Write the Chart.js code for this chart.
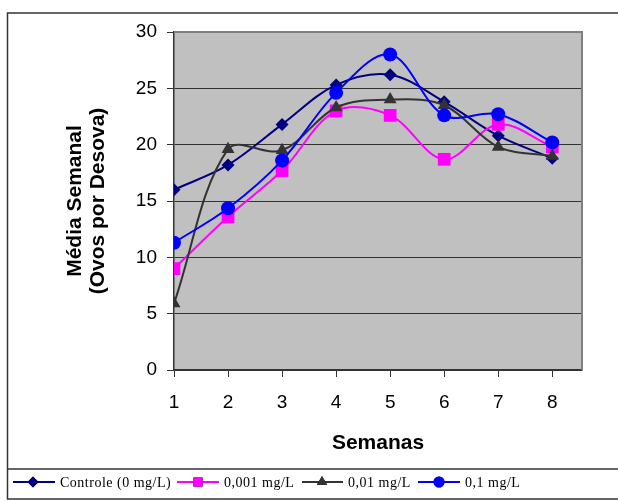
<!DOCTYPE html>
<html>
<head>
<meta charset="utf-8">
<script src="https://cdn.jsdelivr.net/npm/chart.js@4/dist/chart.umd.min.js"></script>
<style>
  html, body { margin: 0; padding: 0; background: #fff; }
  #wrap { width: 618px; height: 502px; }
</style>
</head>
<body>
<div id="wrap"><canvas id="grafico" width="618" height="502"></canvas></div>
<script>
// dados
const semanas = [1, 2, 3, 4, 5, 6, 7, 8];
const controle = [16.0, 18.2, 21.8, 25.3, 26.2, 23.8, 20.8, 18.8];
const dose0001 = [9.0, 13.6, 17.7, 23.0, 22.6, 18.7, 21.8, 19.8];
const dose001 = [5.9, 19.6, 19.5, 23.3, 24.0, 23.5, 19.8, 19.0];
const dose01 = [11.3, 14.35, 18.6, 24.6, 28.0, 22.6, 22.7, 20.2];
const nomes = ["Controle (0 mg/L)", "0,001 mg/L", "0,01 mg/L", "0,1 mg/L"];
const ticksY = [0, 5, 10, 15, 20, 25, 30];

const fonte = "'Liberation Sans', Arial, sans-serif";

function serie(nome, valores, cor, estilo, raio, ordem) {
  return {
    label: nome,
    data: valores,
    borderColor: cor,
    backgroundColor: cor,
    borderWidth: 2,
    pointStyle: estilo,
    pointRadius: raio,
    pointBorderWidth: 0,
    pointBackgroundColor: cor,
    tension: 0.35,
    order: ordem
  };
}

// fundo cinza, moldura e legenda
const moldura = {
  id: "moldura",
  beforeDraw(chart) {
    const { ctx, chartArea: a } = chart;
    ctx.save();
    ctx.fillStyle = "#C0C0C0";
    ctx.fillRect(a.left, a.top, a.right - a.left, a.bottom - a.top);
    ctx.restore();
  },
  beforeDatasetsDraw(chart) {
    const { ctx, chartArea: a } = chart;
    ctx.save();
    ctx.strokeStyle = "#808080";
    ctx.lineWidth = 2;
    ctx.beginPath();
    ctx.moveTo(a.left, a.top);
    ctx.lineTo(a.right, a.top);
    ctx.lineTo(a.right, a.bottom);
    ctx.stroke();
    ctx.restore();
  },
  afterDraw(chart) {
    const ctx = chart.ctx;
    ctx.save();
    ctx.strokeStyle = "#333";
    ctx.lineWidth = 1.5;
    ctx.strokeRect(7.5, 13, 620, 486);
    ctx.beginPath();
    ctx.moveTo(7, 469);
    ctx.lineTo(618, 469);
    ctx.stroke();

    const itens = [
      { x1: 13, x2: 55, m: 33, t: 60 },
      { x1: 177, x2: 219, m: 198, t: 224 },
      { x1: 302, x2: 343, m: 322, t: 348 },
      { x1: 418, x2: 460, m: 439, t: 465 }
    ];
    const raios = [5.5, 6.5, 6, 5.5];
    const y = 482;
    ctx.font = "14px 'Liberation Serif', 'DejaVu Serif', serif";
    ctx.letterSpacing = "0.5px";
    ctx.textBaseline = "middle";
    chart.data.datasets.forEach((ds, i) => {
      const it = itens[i];
      ctx.strokeStyle = ds.borderColor;
      ctx.lineWidth = 2;
      ctx.beginPath();
      ctx.moveTo(it.x1, y);
      ctx.lineTo(it.x2, y);
      ctx.stroke();
      Chart.helpers.drawPoint(ctx, {
        pointStyle: ds.pointStyle, radius: raios[i], rotation: 0, borderWidth: 0
      }, it.m, y);
      ctx.fillStyle = ds.borderColor;
      ctx.fill();
      ctx.fillStyle = "#000";
      ctx.fillText(ds.label, it.t, y + 1);
    });
    ctx.restore();
  }
};

new Chart(document.getElementById("grafico"), {
  type: "line",
  data: {
    labels: semanas,
    datasets: [
      serie(nomes[0], controle, "#000080", "rectRot", 6.5, 4),
      serie(nomes[1], dose0001, "#FF00FF", "rect", 9, 3),
      serie(nomes[2], dose001, "#333333", "triangle", 7.5, 2),
      serie(nomes[3], dose01, "#0000FF", "circle", 7, 1)
    ]
  },
  options: {
    responsive: false,
    animation: false,
    layout: { padding: { left: 0, top: 32, right: 36, bottom: 0 } },
    plugins: { legend: { display: false }, tooltip: { enabled: false } },
    scales: {
      x: {
        type: "linear",
        min: 1,
        max: 8.55,
        afterBuildTicks: s => { s.ticks = semanas.map(v => ({ value: v })); },
        afterFit: s => { s.height = 132; },
        grid: { drawOnChartArea: false, color: "#333", tickLength: 7, lineWidth: 1 },
        border: { color: "#333", width: 1.5 },
        ticks: { color: "#000", padding: 14, font: { family: fonte, size: 19 } },
        title: {
          display: true, text: "Semanas", color: "#000",
          font: { family: fonte, size: 21, weight: "bold" },
          padding: { top: 0, bottom: 46 }
        }
      },
      y: {
        min: 0,
        max: 30,
        afterBuildTicks: s => { s.ticks = ticksY.map(v => ({ value: v })); },
        afterFit: s => { s.width = 174; },
        grid: { color: "#333", tickLength: 7, lineWidth: 1 },
        border: { color: "#333", width: 1.5 },
        ticks: { color: "#000", padding: 10, font: { family: fonte, size: 19 } },
        title: {
          display: true, text: ["Média Semanal", "(Ovos por Desova)"], color: "#000",
          font: { family: fonte, size: 21, weight: "bold", lineHeight: 1.1 },
          padding: { top: 63.5, bottom: 0 }
        }
      }
    }
  },
  plugins: [moldura]
});
</script>
</body>
</html>
